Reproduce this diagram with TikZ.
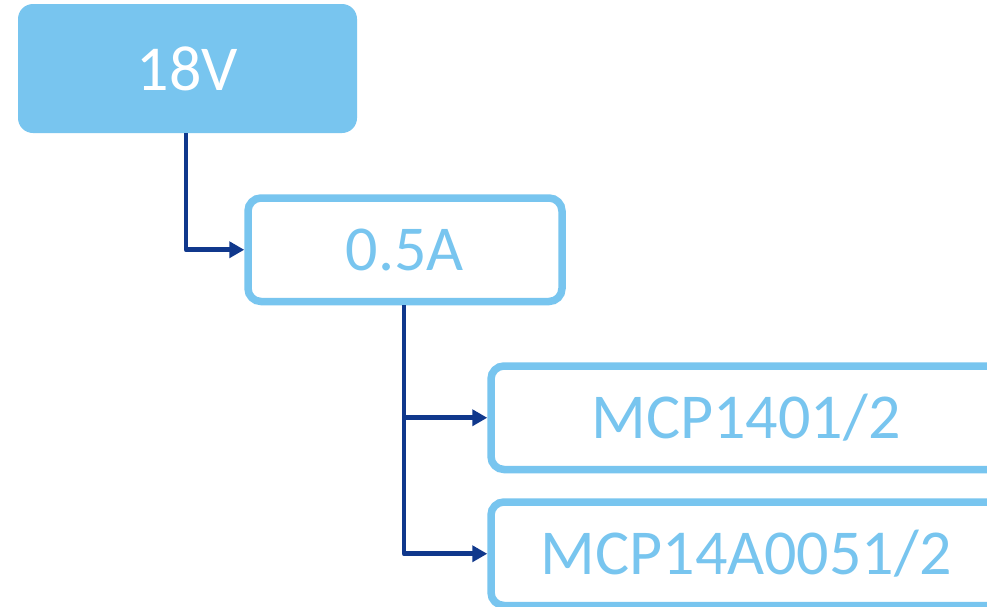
\documentclass[tikz,border=0pt]{standalone}
\usepackage{fontspec}
\setmainfont{Carlito}
\usetikzlibrary{arrows.meta}
\definecolor{lblue}{HTML}{78C5EF}
\definecolor{dblue}{HTML}{10388C}
\begin{document}
\begin{tikzpicture}[x=1pt,y=-1pt,
  filledbox/.style={rectangle, rounded corners=15pt, fill=lblue, draw=none,
    minimum width=339pt, minimum height=129pt, inner sep=0pt, outer sep=0pt,
    text=white, font=\fontsize{64}{64}\selectfont},
  linebox/.style={rectangle, rounded corners=13pt, draw=lblue, line width=7.5pt, fill=white,
    minimum height=103.5pt, inner sep=0pt, outer sep=3.75pt,
    text=lblue, font=\fontsize{64}{64}\selectfont},
  conn/.style={draw=dblue, line width=4.8pt, line join=round,
    -{Triangle[length=15pt,width=16pt]}}]
\useasboundingbox (0,0) rectangle (987,606);
\clip (0,0) rectangle (987,606);
\fill[white] (0,0) rectangle (987,606);
\node[filledbox] (v18) at (187.5,68.5) {18V};
\node[linebox, minimum width=314pt] (a05) at (405,249.75) {0.5A};
\node[linebox, minimum width=510pt] (m1) at (746,417.75) {MCP1401/2};
\node[linebox, minimum width=510pt] (m2) at (746,553.75) {MCP14A0051/2};
\draw[conn] ([xshift=-1.5pt]v18.south) |- (a05.west);
\draw[conn] ([xshift=-1pt]a05.south) |- (m1.west);
\draw[conn] ([xshift=-1pt]a05.south) |- (m2.west);
\end{tikzpicture}
\end{document}
